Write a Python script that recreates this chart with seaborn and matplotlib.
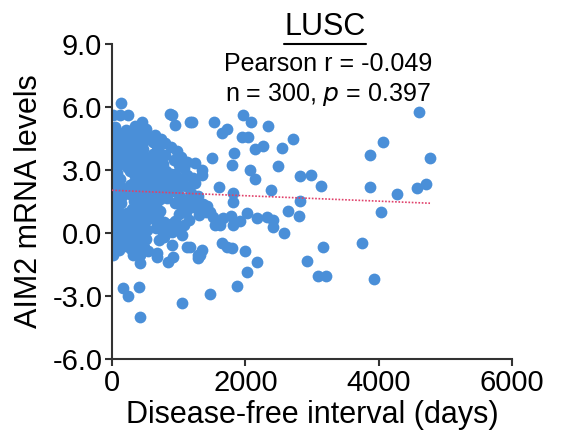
import numpy as np
import pandas as pd
import matplotlib
matplotlib.use("Agg")
import matplotlib.pyplot as plt
import seaborn as sns
from matplotlib.lines import Line2D

# values (days, AIM2 level)
# sparse points, right / middle part of the plot
x_sparse = [4605, 4065, 3870, 4770, 3870, 4275, 4575, 4710, 4035, 3930,
            2715, 2550, 2490, 2820, 2985, 3135, 2820, 2640, 2805, 2580, 3165, 2925, 3090, 3210, 3750,
            1965, 2085, 2340, 1950, 2040, 2145, 2265, 1830, 1800, 2070, 2145, 2385, 1815, 2025, 2175,
            2325, 2415, 1920, 2415, 1800, 1995, 2175, 2025, 1875,
            1200, 1530, 1725, 1650, 1500, 1245, 1350, 1350, 1215, 1605, 1815, 1215, 1365, 1470,
            1515, 1665, 1790, 1545, 1620, 1815, 1170, 1350, 1290, 1650, 1725]
y_sparse = [5.76, 4.33, 3.70, 3.57, 2.20, 1.86, 2.14, 2.33, 1.00, -2.20,
            4.48, 4.05, 3.20, 2.71, 2.76, 2.24, 1.52, 1.05, 0.81, 0.00, -0.67, -1.33, -2.05, -2.05, -0.48,
            5.62, 5.29, 5.10, 4.57, 4.57, 4.00, 4.14, 3.80, 3.24, 3.00, 2.57, 2.05, 1.90, 0.95, 0.71,
            0.76, 0.62, 0.57, 0.29, -0.71, -0.86, -1.38, -1.86, -2.52,
            5.29, 5.29, 4.95, 4.76, 3.57, 3.33, 3.00, 2.76, 2.62, 2.19, 1.48, 1.24, 1.19, 1.00,
            0.76, 0.70, 0.80, 0.38, 0.38, 0.38, -0.67, -0.81, -1.05, -0.48, -0.67]

# lower-left and top-left outliers
x_edge = [15, 315, 420, 420, 675, 840, 915, 1290, 1320, 165, 240, 405, 1050, 1470, 420,
          675, 1125, 75, 120, 135, 15, 120, 240, 450, 870, 900, 945, 1170]
y_edge = [-1.05, -1.05, -1.05, -1.43, -1.14, -1.38, -1.14, -1.20, -1.05, -2.62, -3.00, -2.57, -3.33, -2.90, -4.00,
          -0.95, -0.67, -0.81, -0.43, 6.19, 5.62, 5.62, 5.62, 5.29, 5.67, 5.62, 5.14, 5.29]

# dense cluster (0-1300 days), estimated from the overlapping dots
x_dense = [45, 215, 345, 505,
           20, 160, 290, 440, 640,
           95, 250, 385, 530, 730, 610,
           10, 185, 330, 470, 800, 680,
           60, 230, 355, 470, 660, 880, 120,
           35, 130, 280, 420, 700, 980, 790,
           5, 105, 245, 345, 455, 610, 1040,
           55, 185, 300, 430, 575, 700, 930, 1120,
           25, 280, 390, 515, 640, 760, 1010,
           90, 225, 330, 465, 595, 725, 1080, 810,
           15, 265, 395, 520, 660, 800, 940, 1130,
           75, 340, 470, 605, 745, 885, 1060, 990,
           10, 115, 380, 510, 640, 790, 960, 1240,
           60, 300, 440, 570, 705, 850, 1110, 1290,
           25, 145, 265, 395, 525, 660, 810, 990,
           85, 210, 340, 470, 610, 740, 905, 1180,
           15, 150, 275, 410, 550, 690, 830, 1010, 1160,
           75, 325, 455, 590, 725, 1060, 1360,
           130, 380, 520, 655, 945, 1210, 1420,
           40, 305, 435, 575, 715, 1055, 1300,
           95, 225, 355, 485, 625, 1115, 1290,
           30, 155, 285, 415, 555, 695, 1005, 1410,
           100, 235, 365, 495, 635, 775, 945, 1150,
           50, 185, 315, 445, 720, 885, 1085,
           120, 255, 385, 525, 665, 805, 985,
           20, 175, 305, 455, 760, 905, 1050,
           80, 220, 365, 505, 780,
           30, 290, 435, 700,
           215, 355, 485, 905,
           100, 280, 540]
y_dense = [5.04, 4.92, 5.08, 4.96,
           4.83, 4.74, 4.88, 4.76, 4.69,
           4.64, 4.53, 4.68, 4.56, 4.49, 4.32,
           4.38, 4.34, 4.47, 4.35, 4.28, 4.12,
           4.19, 4.14, 4.27, 4.02, 4.23, 4.09, 4.51,
           4.04, 3.94, 4.08, 3.96, 3.88, 3.92, 3.71,
           3.84, 3.72, 3.86, 3.62, 3.79, 3.74, 3.63,
           3.66, 3.54, 3.68, 3.52, 3.58, 3.65, 3.47, 3.38,
           3.43, 3.36, 3.48, 3.33, 3.44, 3.28, 3.22,
           3.24, 3.12, 3.27, 3.16, 3.25, 3.13, 3.08, 2.95,
           3.03, 2.94, 3.07, 2.92, 3.05, 2.88, 2.82, 2.74,
           2.84, 2.73, 2.87, 2.75, 2.66, 2.79, 2.61, 2.42,
           2.63, 2.55, 2.67, 2.52, 2.46, 2.58, 2.48, 2.37,
           2.44, 2.34, 2.47, 2.33, 2.41, 2.28, 2.26, 1.76,
           2.23, 2.15, 2.27, 2.12, 2.25, 2.14, 2.05, 2.18,
           2.04, 1.94, 2.08, 1.92, 2.03, 1.89, 1.98, 1.91,
           1.83, 1.74, 1.87, 1.73, 1.85, 1.72, 1.68, 1.79, 1.66,
           1.64, 1.54, 1.66, 1.53, 1.62, 1.49, 1.36,
           1.43, 1.35, 1.47, 1.32, 1.41, 1.38, 1.28,
           1.24, 1.14, 1.27, 1.12, 1.06, 1.21, 0.88,
           1.03, 0.94, 1.07, 0.92, 1.05, 0.98, 1.12,
           0.84, 0.75, 0.87, 0.72, 0.85, 0.73, 0.91, 1.02,
           0.63, 0.55, 0.67, 0.53, 0.65, 0.52, 0.58, 0.62,
           0.44, 0.35, 0.47, 0.33, 0.32, 0.43, 0.36,
           0.23, 0.15, 0.27, 0.12, 0.26, 0.13, 0.21,
           0.04, -0.05, 0.07, -0.08, -0.02, 0.05, -0.11,
           -0.16, -0.25, -0.13, -0.27, -0.18,
           -0.36, -0.33, -0.45, -0.31,
           -0.62, -0.55, -0.66, -0.58,
           -0.82, -0.74, -0.86]

x_ticks = [0, 2000, 4000, 6000]
y_ticks = [-6.0, -3.0, 0.0, 3.0, 6.0, 9.0]

df = pd.DataFrame({
    "days": x_sparse + x_edge + x_dense,
    "aim2": y_sparse + y_edge + y_dense,
})

sns.set_theme(style="ticks")
plt.rcParams["font.family"] = ["Liberation Sans", "DejaVu Sans"]
plt.rcParams["text.color"] = "black"
plt.rcParams["axes.labelcolor"] = "black"
plt.rcParams["xtick.color"] = "#333333"
plt.rcParams["ytick.color"] = "#333333"
plt.rcParams["xtick.labelcolor"] = "black"
plt.rcParams["ytick.labelcolor"] = "black"

fig = plt.figure(figsize=(5.61, 4.30), dpi=100)
ax = fig.add_axes([112 / 561, 1 - 359 / 430, 400 / 561, 315 / 430])

sns.scatterplot(data=df, x="days", y="aim2", ax=ax, color="#4a8fd8",
                s=72, linewidth=0, alpha=1, zorder=2)

# least-squares line through the points
slope, icpt = np.polyfit(df["days"], df["aim2"], 1)
xl = np.array([0, df["days"].max()])
ax.plot(xl, icpt + slope * xl, color="#e0406a", lw=1.2, ls=(0, (1, 1)), zorder=3)

ax.set_xlim(0, 6000)
ax.set_ylim(-6, 9)
ax.set_xticks(x_ticks)
ax.set_yticks(y_ticks)
ax.set_yticklabels([f"{v:.1f}" for v in y_ticks])
ax.tick_params(labelsize=21, length=5, width=1.5, pad=2)
for sp in ["left", "bottom"]:
    ax.spines[sp].set_linewidth(1.5)
    ax.spines[sp].set_color("#333333")
sns.despine(ax=ax)

ax.set_xlabel("Disease-free interval (days)", fontsize=22, labelpad=2)
ax.set_ylabel("AIM2 mRNA levels", fontsize=22, labelpad=6)

fig.text(325 / 561, 1 - 27 / 430, "LUSC", fontsize=22, ha="center", va="center")
fig.add_artist(Line2D([284 / 561, 366 / 561], [1 - 44 / 430, 1 - 44 / 430],
                      color="black", lw=1.5))
fig.text(328 / 561, 1 - 64 / 430, "Pearson r = -0.049", fontsize=18, ha="center", va="center")
fig.text(328 / 561, 1 - 94 / 430, "n = 300, $\\it{p}$ = 0.397", fontsize=18, ha="center", va="center")

fig.savefig("out.png", dpi=100)
